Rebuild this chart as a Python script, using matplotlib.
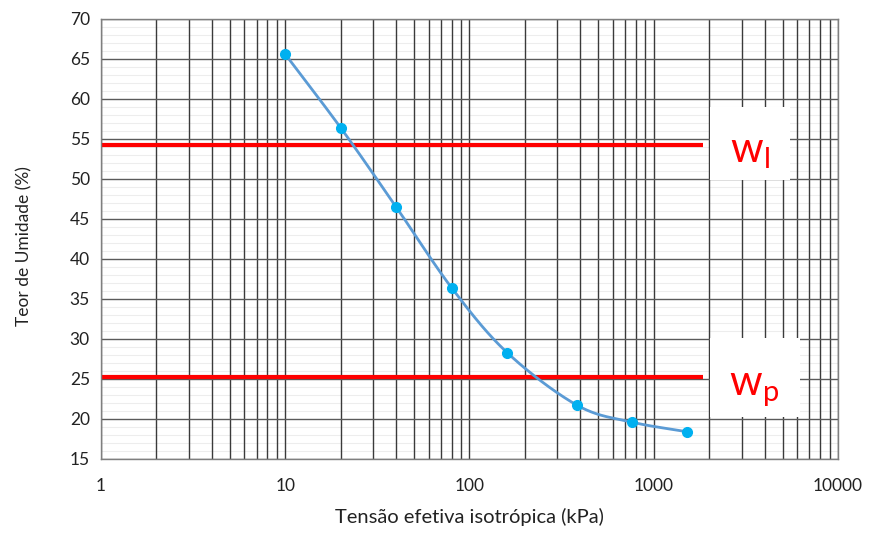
import numpy as np
import matplotlib
matplotlib.use("Agg")
import matplotlib.pyplot as plt
from matplotlib.ticker import FixedLocator, NullFormatter, FixedFormatter
from matplotlib.patches import Rectangle

# Data
tensao = [10, 20, 40, 80, 160, 385, 765, 1520]
umidade = [65.6, 56.4, 46.5, 36.4, 28.3, 21.7, 19.6, 18.4]
wl_value = 54.2
wp_value = 25.2
limit_x_end = 1850
x_ticks = [1, 10, 100, 1000, 10000]
x_ticklabels = ["1", "10", "100", "1000", "10000"]
y_ticks = [15, 20, 25, 30, 35, 40, 45, 50, 55, 60, 65, 70]
y_minor = list(range(16, 70))

plt.rcParams['font.family'] = ['Lato', 'DejaVu Sans']
plt.rcParams['mathtext.fontset'] = 'custom'
plt.rcParams['mathtext.rm'] = 'Open Sans'
plt.rcParams['mathtext.it'] = 'Open Sans'

fig = plt.figure(figsize=(8.72, 5.35), dpi=100)
ax = fig.add_axes([0.1158, 0.1421, 0.961 - 0.1158, 0.9645 - 0.1421])
ax.set_xscale('log')
ax.set_xlim(1, 10000)
ax.set_ylim(15, 70)

# Grid
ax.xaxis.set_major_locator(FixedLocator(x_ticks))
ax.xaxis.set_major_formatter(FixedFormatter(x_ticklabels))
minor_x = [m * 10 ** d for d in range(4) for m in range(2, 10)]
ax.xaxis.set_minor_locator(FixedLocator(minor_x))
ax.xaxis.set_minor_formatter(NullFormatter())
ax.yaxis.set_major_locator(FixedLocator(y_ticks))
for yv in y_minor:
    if yv % 5:
        ax.axhline(yv, color='#ededed', linewidth=0.8, zorder=0.1)
ax.grid(which='major', axis='x', color='#3a3a3a', linewidth=1.0, linestyle='-')
ax.grid(which='minor', axis='x', color='#3a3a3a', linewidth=1.0, linestyle='-')
ax.grid(which='major', axis='y', color='#5a5a5a', linewidth=1.0, linestyle='-')
ax.set_axisbelow(True)
ax.tick_params(which='both', length=0)
ax.tick_params(axis='both', labelsize=12.5, colors='#222222', pad=8)
ax.tick_params(axis='x', pad=14)
for s in ax.spines.values():
    s.set_color('#7f7f7f')
    s.set_linewidth(1.0)

# Smooth curve (Catmull-Rom in log-x space)
lx = np.log10(tensao)
yy = np.array(umidade)
P = np.column_stack([lx, yy])
Pe = np.vstack([2 * P[0] - P[1], P, 2 * P[-1] - P[-2]])
cx, cy = [], []
for i in range(1, len(Pe) - 2):
    p0, p1, p2, p3 = Pe[i - 1], Pe[i], Pe[i + 1], Pe[i + 2]
    t = np.linspace(0, 1, 40)[:, None]
    seg = 0.5 * ((2 * p1) + (-p0 + p2) * t + (2 * p0 - 5 * p1 + 4 * p2 - p3) * t ** 2
                 + (-p0 + 3 * p1 - 3 * p2 + p3) * t ** 3)
    cx.extend(seg[:, 0]); cy.extend(seg[:, 1])
ax.plot(10 ** np.array(cx), cy, color='#5B9BD5', linewidth=2.0, zorder=3)
ax.plot(tensao, umidade, linestyle='none', marker='o', markersize=7,
        color='#00B0F0', zorder=4)

# Limit lines
ax.plot([1, limit_x_end], [wl_value, wl_value], color='#FF0000', linewidth=3, zorder=2,
        solid_capstyle='butt')
ax.plot([1, limit_x_end], [wp_value, wp_value], color='#FF0000', linewidth=3, zorder=2,
        solid_capstyle='butt')

# White label boxes
ax.add_patch(Rectangle((10 ** 3.305, 49.9), 10 ** 3.74 - 10 ** 3.305, 9.1,
                       facecolor='white', edgecolor='none', zorder=2.5))
ax.add_patch(Rectangle((10 ** 3.305, 20.25), 10 ** 3.794 - 10 ** 3.305, 9.85,
                       facecolor='white', edgecolor='none', zorder=2.5))
ax.text(10 ** 3.522, 52.1, r'$\mathregular{w_l}$', color='#FF0000', fontsize=30,
        ha='center', va='baseline', zorder=5)
ax.text(10 ** 3.547, 23.0, r'$\mathregular{w_p}$', color='#FF0000', fontsize=30,
        ha='center', va='baseline', zorder=5)

ax.set_xlabel('Tensão efetiva isotrópica (kPa)', fontsize=14.5, color='#222222', labelpad=10)
ax.set_ylabel('Teor de Umidade (%)', fontsize=12.5, color='#222222')
ax.yaxis.set_label_coords(-0.093, 0.484)

fig.savefig('out.png', dpi=100, facecolor='white')
